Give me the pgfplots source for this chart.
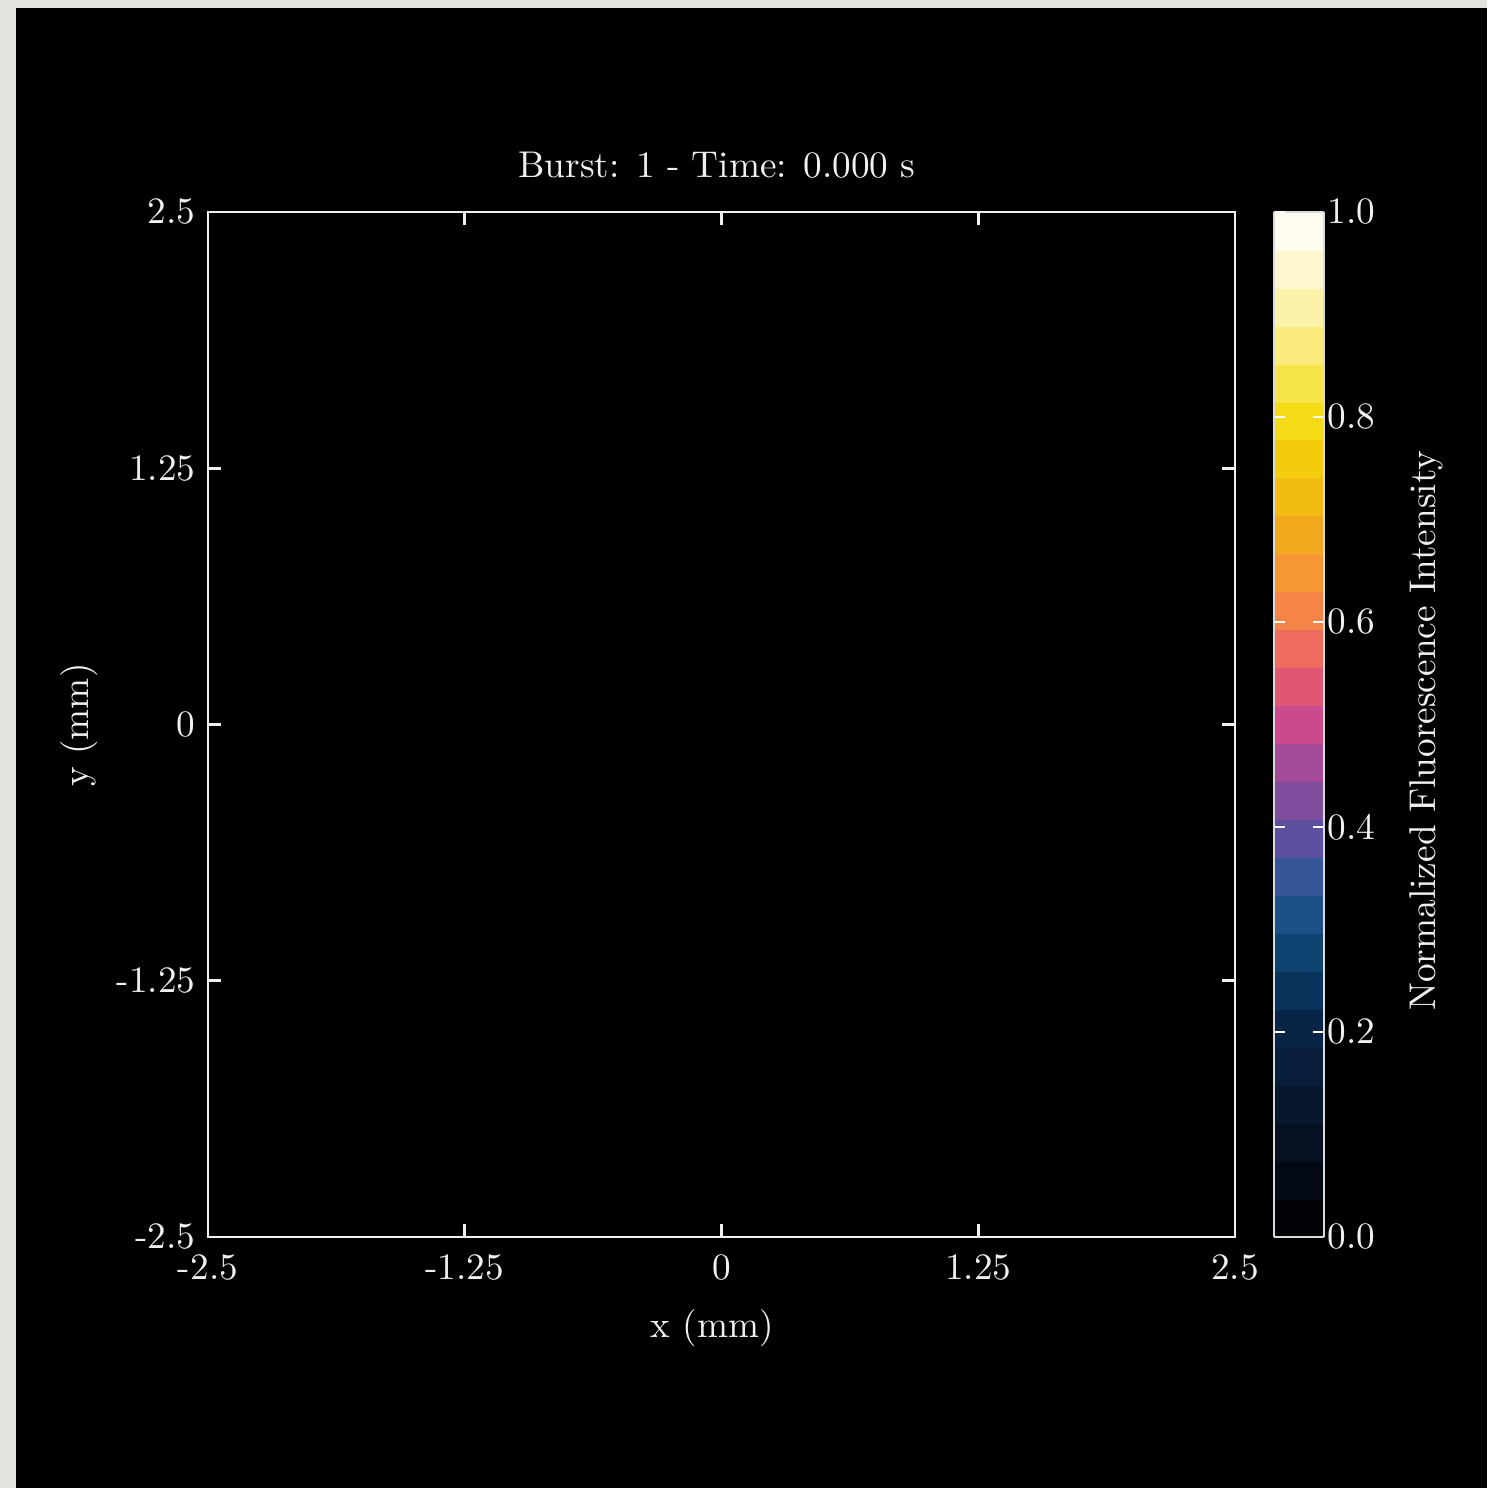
\documentclass[border=0pt]{standalone}
\usepackage{pgfplots}
\pgfplotsset{compat=1.18}

\definecolor{paper}{RGB}{227,226,220}
\definecolor{framegray}{RGB}{218,218,218}
\newcommand{\lab}{\fontsize{10.6}{12.7}\selectfont}

% intensity on the imaging plane (mm), all zero at t = 0
\pgfplotstableread{
x y c
-2 -2 0
-1 -2 0
0 -2 0
1 -2 0
2 -2 0
-2 -1 0
-1 -1 0
0 -1 0
1 -1 0
2 -1 0
-2 0 0
-1 0 0
0 0 0
1 0 0
2 0 0
-2 1 0
-1 1 0
0 1 0
1 1 0
2 1 0
-2 2 0
-1 2 0
0 2 0
1 2 0
2 2 0
}\frame

\begin{document}
\begin{tikzpicture}
% page background and dark panel
\fill[paper] (-2.08,-2.51) rectangle (12.79,12.37);
\fill[black] (-1.92,-2.51) rectangle (12.79,12.29);
\begin{axis}[
  at={(0,0)}, anchor=south west,
  scale only axis,
  width=10.27cm, height=10.25cm,
  xmin=-2.5, xmax=2.5, ymin=-2.5, ymax=2.5,
  enlargelimits=false,
  axis on top,
  axis background/.style={fill=black},
  axis line style={white!94!black, line width=0.8pt},
  xtick={-2.5,-1.25,0,1.25,2.5},
  ytick={-2.5,-1.25,0,1.25,2.5},
  xticklabels={-2.5,-1.25,0,1.25,2.5},
  yticklabels={-2.5,-1.25,0,1.25,2.5},
  xtick pos=both, ytick pos=both,
  xticklabel pos=lower, yticklabel pos=left,
  tick align=inside,
  major tick length=1.3mm,
  every tick/.style={white!94!black, line width=0.8pt},
  every tick label/.append style={font=\lab, text=white!94!black},
  xticklabel style={anchor=base, yshift=-4.3mm},
  every axis title shift=0pt,
  title={Burst: 1 - Time: 0.000 s},
  title style={at={(axis description cs:0.4956,1.0332)}, anchor=base, font=\lab, text=white!94!black},
  xlabel={x (mm)},
  xlabel style={at={(axis description cs:0.4908,-0.0985)}, anchor=base, font=\lab, text=white!94!black},
  ylabel={y (mm)},
  ylabel style={at={(axis description cs:-0.116,0.4995)}, anchor=base, rotate=0, font=\lab, text=white!94!black},
  colormap={fluo}{
    rgb255=(0,0,0) rgb255=(3,8,16) rgb255=(5,18,36) rgb255=(6,26,52)
    rgb255=(8,36,70) rgb255=(10,55,96) rgb255=(16,76,126) rgb255=(52,86,152)
    rgb255=(102,80,160) rgb255=(152,74,156) rgb255=(202,74,140) rgb255=(232,92,108)
    rgb255=(245,126,80) rgb255=(245,152,50) rgb255=(242,176,22) rgb255=(242,200,10)
    rgb255=(245,220,22) rgb255=(248,232,100) rgb255=(250,241,160) rgb255=(252,248,212)
    rgb255=(255,255,255)
  },
  point meta min=0, point meta max=1,
  colorbar sampled,
  colorbar style={
    samples=28,
    at={(parent axis.north east)}, anchor=north west,
    xshift=0.09cm,
    width=0.5cm,
    axis line style={framegray, line width=0.8pt},
    ytick={0,0.2,0.4,0.6,0.8,1},
    yticklabels={0.0,0.2,0.4,0.6,0.8,1.0},
    ytick pos=both, yticklabel pos=right,
    tick align=inside,
    major tick length=1.1mm,
    every tick/.style={white, line width=0.8pt},
    yticklabel style={font=\lab, text=white!94!black, inner xsep=0.3mm},
    ylabel={Normalized Fluorescence Intensity},
    ylabel style={at={(axis description cs:3.22,0.494)}, anchor=base, rotate=0, font=\lab, text=white!94!black},
  },
]
\addplot[matrix plot*, mesh/cols=5, point meta=explicit] table[x=x, y=y, meta=c] {\frame};
\end{axis}
\end{tikzpicture}
\end{document}
